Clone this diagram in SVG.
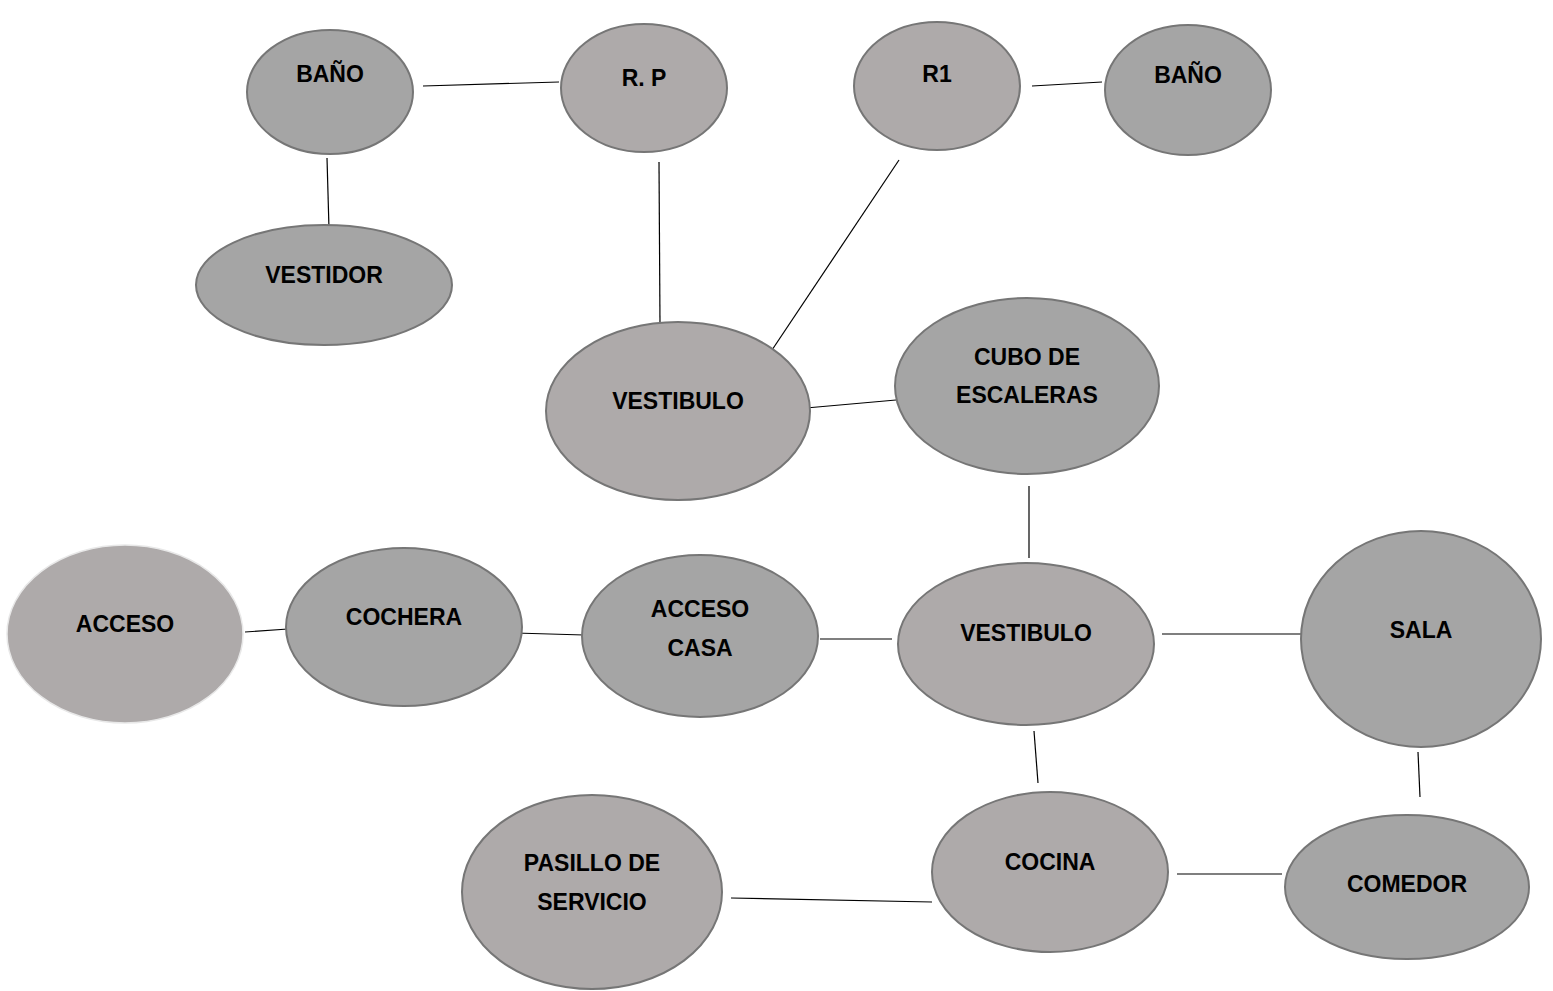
<svg xmlns="http://www.w3.org/2000/svg" width="1553" height="991" viewBox="0 0 1553 991">
<style>
.a{fill:#A5A5A5;stroke:#767676;stroke-width:2}
.b{fill:#AEAAAA;stroke:#767676;stroke-width:2}
.c{fill:#AEAAAA;stroke:#E8E8E8;stroke-width:1.5}
text{font-family:"Liberation Sans",Arial,sans-serif;font-weight:bold;font-size:23px;fill:#000;text-anchor:middle}
#connectors line{stroke:#000;stroke-width:1.2}
</style>
<rect width="1553" height="991" fill="#fff"/>
<g id="connectors">
<line x1="423" y1="86" x2="559" y2="82"/>
<line x1="327" y1="158" x2="329" y2="229"/>
<line x1="659" y1="162" x2="660" y2="324"/>
<line x1="899" y1="160" x2="772" y2="350"/>
<line x1="1032" y1="86" x2="1102" y2="82"/>
<line x1="806" y1="408" x2="896" y2="400"/>
<line x1="1029" y1="486" x2="1029" y2="558"/>
<line x1="245" y1="632" x2="288" y2="629"/>
<line x1="515" y1="633" x2="584" y2="635"/>
<line x1="820" y1="639" x2="892" y2="639"/>
<line x1="1162" y1="634" x2="1302" y2="634"/>
<line x1="1034" y1="731" x2="1038" y2="783"/>
<line x1="1418" y1="752" x2="1420" y2="797"/>
<line x1="1177" y1="874" x2="1282" y2="874"/>
<line x1="731" y1="898" x2="932" y2="902"/>
</g>
<g id="bano1"><ellipse class="a" cx="330" cy="92" rx="83" ry="62"/><text x="330" y="82">BAÑO</text></g>
<g id="rp"><ellipse class="b" cx="644" cy="88" rx="83" ry="64"/><text x="644" y="86">R. P</text></g>
<g id="r1"><ellipse class="b" cx="937" cy="86" rx="83" ry="64"/><text x="937" y="82">R1</text></g>
<g id="bano2"><ellipse class="a" cx="1188" cy="90" rx="83" ry="65"/><text x="1188" y="83">BAÑO</text></g>
<g id="vestidor"><ellipse class="a" cx="324" cy="285" rx="128" ry="60"/><text x="324" y="283">VESTIDOR</text></g>
<g id="vestibulo1"><ellipse class="b" cx="678" cy="411" rx="132" ry="89"/><text x="678" y="409">VESTIBULO</text></g>
<g id="cubo"><ellipse class="a" cx="1027" cy="386" rx="132" ry="88"/><text x="1027" y="365">CUBO DE</text><text x="1027" y="403">ESCALERAS</text></g>
<g id="acceso"><ellipse class="c" cx="125" cy="634" rx="118" ry="89"/><text x="125" y="632">ACCESO</text></g>
<g id="cochera"><ellipse class="a" cx="404" cy="627" rx="118" ry="79"/><text x="404" y="625">COCHERA</text></g>
<g id="accesocasa"><ellipse class="a" cx="700" cy="636" rx="118" ry="81"/><text x="700" y="617">ACCESO</text><text x="700" y="656">CASA</text></g>
<g id="vestibulo2"><ellipse class="b" cx="1026" cy="644" rx="128" ry="81"/><text x="1026" y="641">VESTIBULO</text></g>
<g id="sala"><ellipse class="a" cx="1421" cy="639" rx="120" ry="108"/><text x="1421" y="638">SALA</text></g>
<g id="cocina"><ellipse class="b" cx="1050" cy="872" rx="118" ry="80"/><text x="1050" y="870">COCINA</text></g>
<g id="comedor"><ellipse class="a" cx="1407" cy="887" rx="122" ry="72"/><text x="1407" y="892">COMEDOR</text></g>
<g id="pasillo"><ellipse class="b" cx="592" cy="892" rx="130" ry="97"/><text x="592" y="871">PASILLO DE</text><text x="592" y="910">SERVICIO</text></g>
</svg>
